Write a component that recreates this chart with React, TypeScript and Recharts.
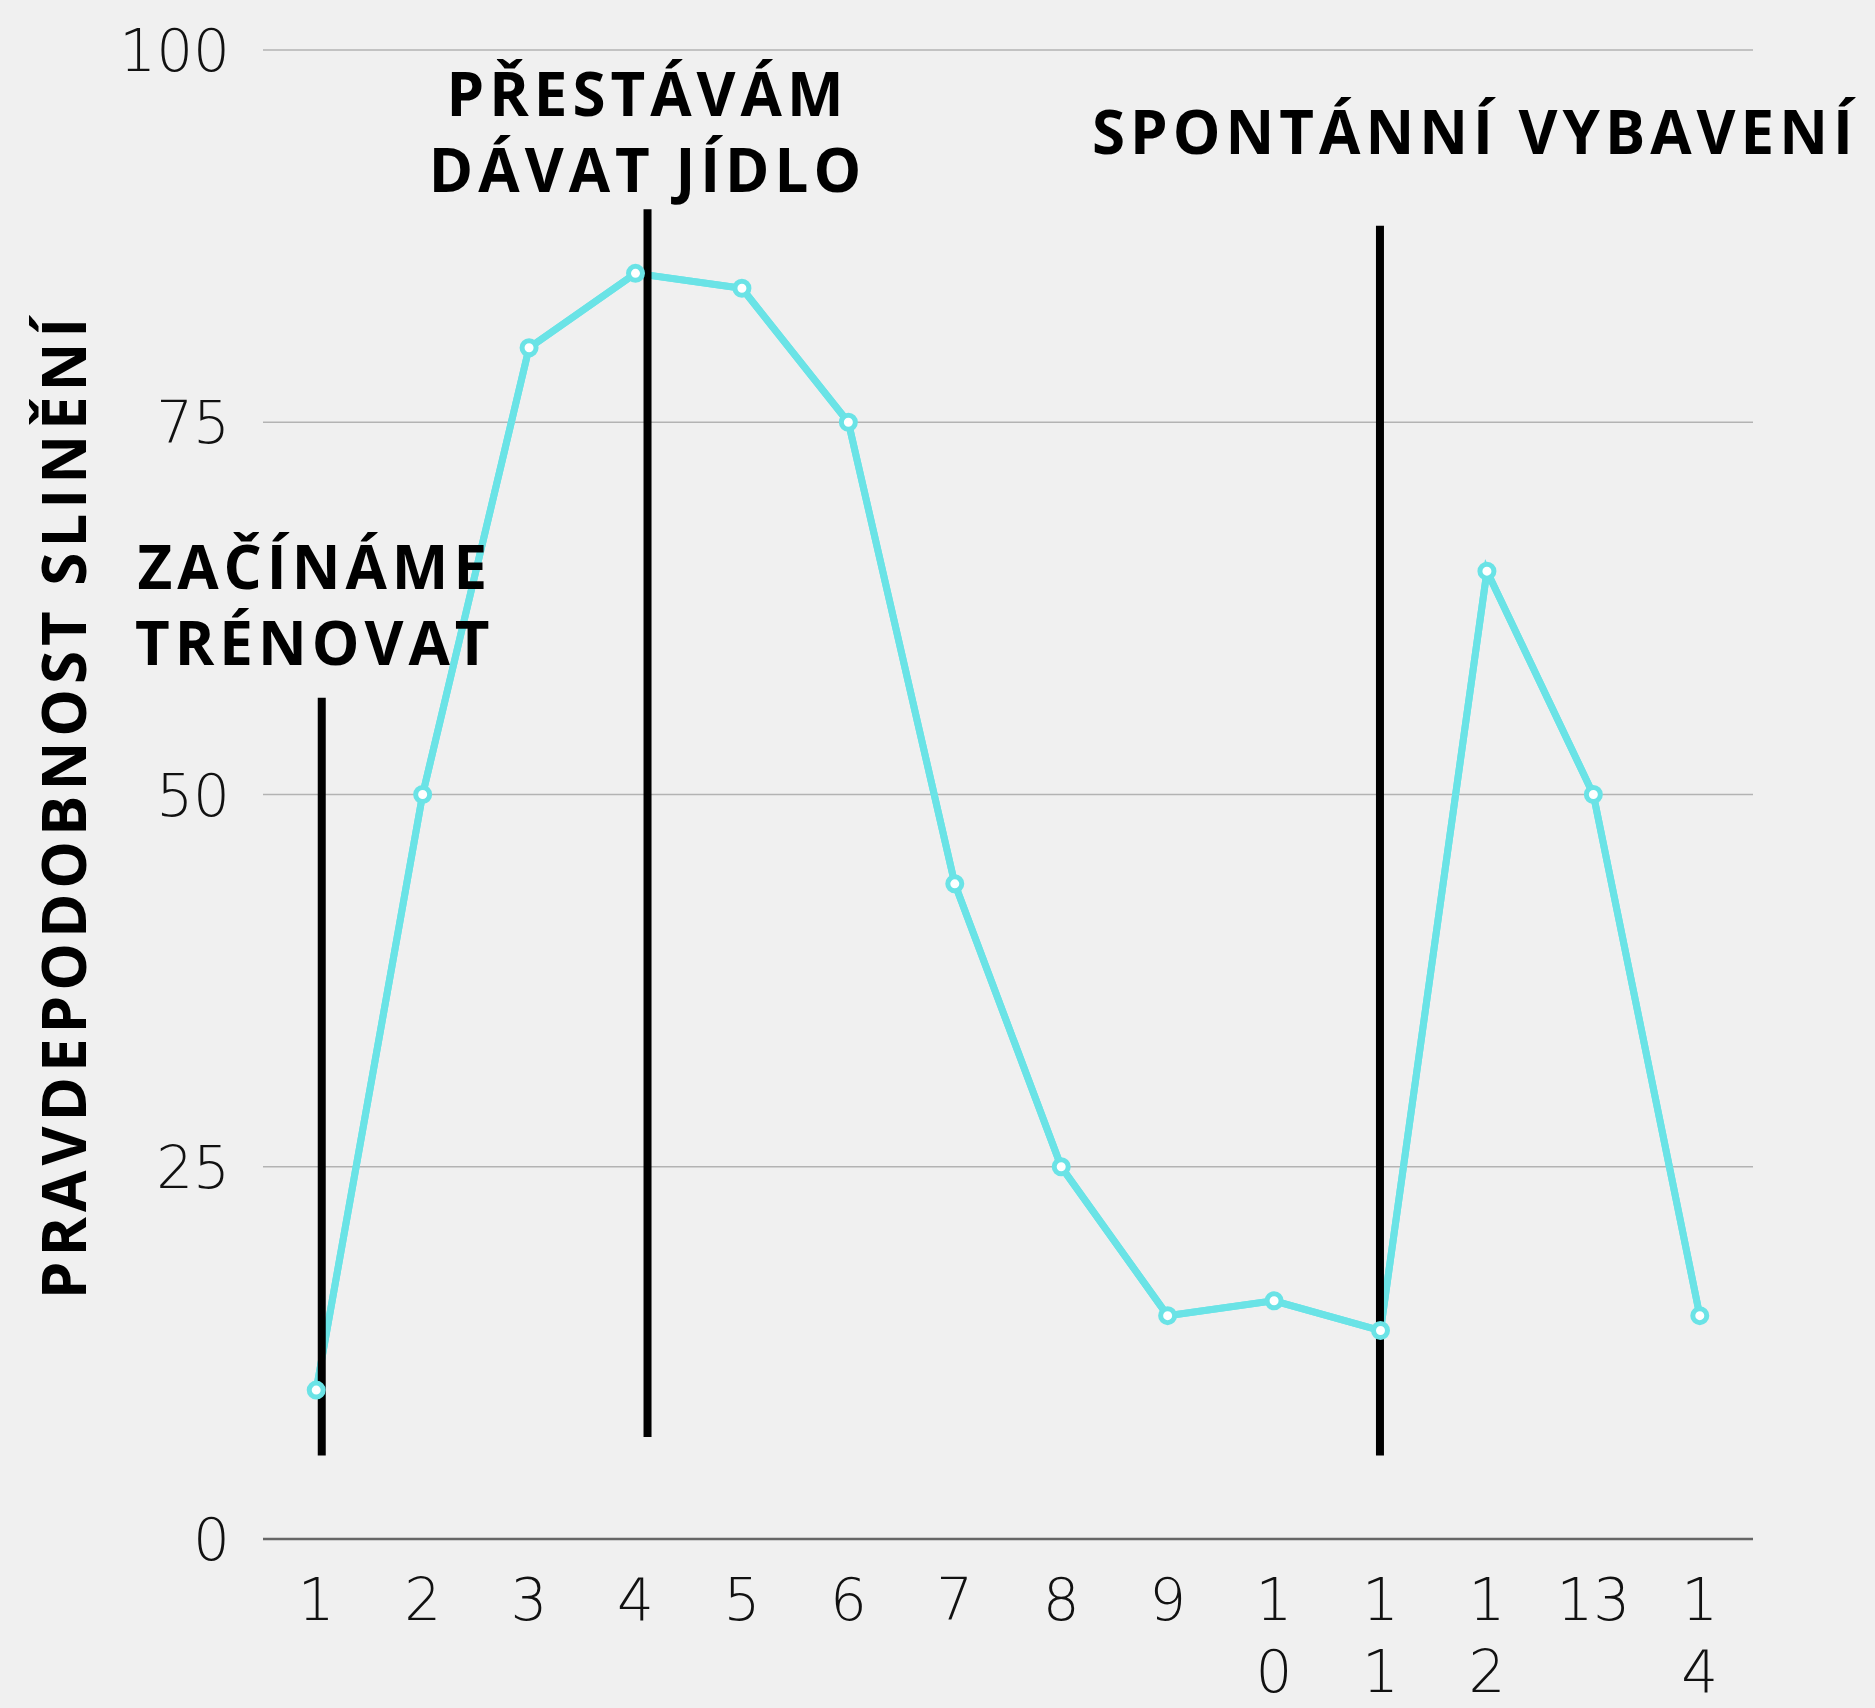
import { LineChart, Line, XAxis, YAxis, CartesianGrid, ReferenceLine } from 'recharts';

const categories = ['1', '2', '3', '4', '5', '6', '7', '8', '9', '10', '11', '12', '13', '14'];
const salivation = [10, 50, 80, 85, 84, 75, 44, 25, 15, 16, 14, 65, 50, 15];
// the x labels wrap in the original, kept as they appear
const tickLines = [['1'], ['2'], ['3'], ['4'], ['5'], ['6'], ['7'], ['8'], ['9'], ['1', '0'], ['1', '1'], ['1', '2'], ['13'], ['1', '4']];
const yTicks = [0, 25, 50, 75, 100];

// phase markers: position on a 0..14 band scale, top and bottom in % units
const markerX = [0.552, 3.613, 10.495];
const markerTop = [56.5, 89.3, 88.2];
const markerBottom = [5.6, 6.85, 5.6];
const markerText = [['ZAČÍNÁME', 'TRÉNOVAT'], ['PŘESTÁVÁM', 'DÁVAT JÍDLO'], ['SPONTÁNNÍ VYBAVENÍ']];
const markerDx = [-7, 0, 95];
const markerDy = [-33, -17, -72];

// slot = centre of each band on the 0..14 helper axis
const data = categories.map((c, i) => ({ step: c, value: salivation[i], slot: i + 0.5 }));

const CYAN = '#6ae3e6';
const BOLD = { fontFamily: '"Open Sans", sans-serif', fontWeight: 700, fontSize: 60, letterSpacing: 5, fill: '#000' };
const TICK = { fontFamily: '"DejaVu Sans", sans-serif', fontWeight: 200, fontSize: 58, fill: '#111' };

const XTick = (props: any) => {
  const { x, y, payload, index } = props;
  const lines = tickLines[index] || [payload.value];
  return (
    <g>
      {lines.map((t, i) => (
        <text key={i} x={x} y={y + 73 + i * 72} textAnchor="middle" {...TICK}>
          {t}
        </text>
      ))}
    </g>
  );
};

const YTick = (props: any) => {
  const { y, payload } = props;
  return (
    <text x={263 - 33} y={y + 21} textAnchor="end" {...TICK}>
      {payload.value}
    </text>
  );
};

const markerLabel = (i: number) => (props: any) => {
  const vb = props.viewBox || {};
  const lines = markerText[i];
  const cx = vb.x + markerDx[i];
  const last = vb.y + markerDy[i];
  return (
    <g>
      {lines.map((t, k) => (
        <text key={k} x={cx} y={last - (lines.length - 1 - k) * 76} textAnchor="middle" {...BOLD}>
          {t}
        </text>
      ))}
    </g>
  );
};

const YTitle = () => {
  const cx = 86;
  const cy = 806;
  return (
    <text x={cx} y={cy} transform={`rotate(-90, ${cx}, ${cy})`} textAnchor="middle" {...BOLD}>
      PRAVDEPODOBNOST SLINĚNÍ
    </text>
  );
};

export default function App() {
  return (
    <div style={{ position: 'absolute', left: 0, top: 0, width: 1875, height: 1708, background: '#f0f0f0' }}>
      <LineChart width={1875} height={1708} data={data} margin={{ top: 50, right: 122, bottom: 0, left: 0 }}>
        <CartesianGrid vertical={false} stroke="#b3b3b3" strokeWidth={1.5} />
        <XAxis
          dataKey="step"
          scale="band"
          height={169}
          axisLine={{ stroke: '#666', strokeWidth: 2.5 }}
          tickLine={false}
          interval={0}
          tick={<XTick />}
        />
        <XAxis xAxisId="pos" dataKey="slot" type="number" domain={[0, 14]} allowDataOverflow hide />
        <YAxis
          width={263}
          domain={[0, 100]}
          ticks={yTicks}
          axisLine={false}
          tickLine={false}
          tick={<YTick />}
          label={{ content: <YTitle /> }}
        />
        {/* dots first, then the line again on top of them, as in the original */}
        <Line
          dataKey="value"
          stroke={CYAN}
          strokeWidth={7}
          dot={{ r: 7, stroke: CYAN, strokeWidth: 5, fill: '#fff' }}
          activeDot={false}
          isAnimationActive={false}
        />
        <Line dataKey="value" stroke={CYAN} strokeWidth={7} dot={false} activeDot={false} isAnimationActive={false} />
        {markerX.map((mx, i) => (
          <ReferenceLine
            key={i}
            xAxisId="pos"
            segment={[
              { x: mx, y: markerTop[i] },
              { x: mx, y: markerBottom[i] },
            ]}
            stroke="#000"
            strokeWidth={8}
            label={markerLabel(i)}
          />
        ))}
      </LineChart>
    </div>
  );
}
